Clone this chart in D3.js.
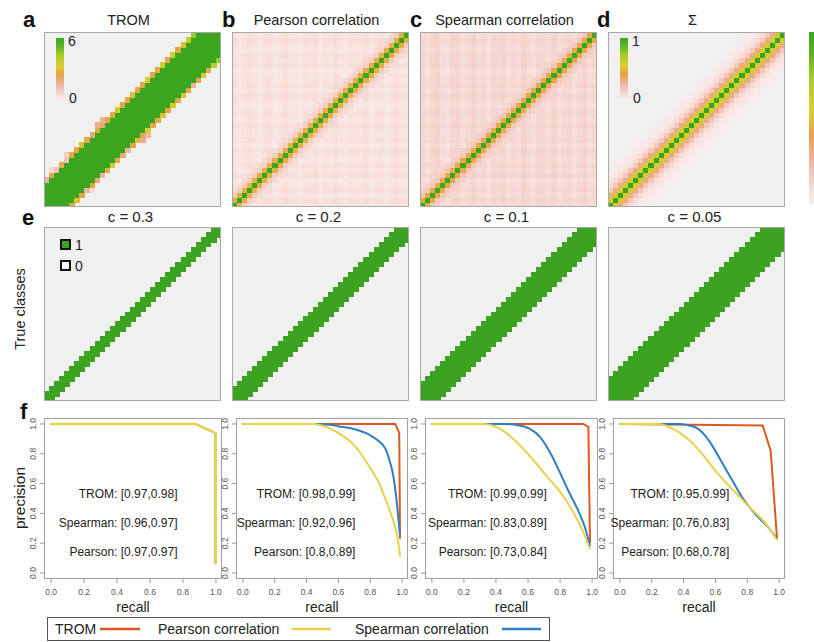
<!DOCTYPE html>
<html><head><meta charset="utf-8">
<script src="https://cdn.jsdelivr.net/npm/d3@7"></script>
<style>body{margin:0;background:#fff}text{font-family:"Liberation Sans",Arial,sans-serif}</style>
</head><body><svg id="c" width="814" height="642"></svg>
<script>
// ---------------- DATA ----------------
const N = 35;
const panelLetters = ["a", "b", "c", "d"];
const panelTitles = ["TROM", "Pearson correlation", "Spearman correlation", "Σ"];
const cTitles = ["c = 0.3", "c = 0.2", "c = 0.1", "c = 0.05"];
const trueBandHalfWidth = [1, 2, 3, 4];

// TROM scores (0..6): band core, edge cells just outside the band, outer cells
const tromMax = 6;
const tromBandHalfWidth = 4;
const tromUpperEdge = [1.5,2.5,1.2,2.5,1.2,2.5,2.5,3,2.5,2,2.5,2,2.5,2.5,3.5,2.5,2.5,3,2.5,2.5,3.5,2.5,2.5,3.5,2.5,3.5,2.5,3,4,4.5];
const tromLowerEdge = [2.5,3,2.5,1.5,2.5,2,1.5,2.5,3.5,2.5,2,1.5,2.5,3,2.5,3.5,2.5,2.5,3,2.5,3.5,2.5,3,2.5,1.5,2.5,3.5,2.5,4,4.5];
const tromUpperOuter = [0,0.6,0,0,0.8,0,0,0,0,0,1.8,1.5,0,0,0,0,0,0,0,0,0,0,0,0,0,0,0,0,0];
const tromLowerOuter = [0,0,0,0.6,0,0,0,0,0,0,0,0,0,1.8,1.5,0,0,0,0,0,0,0,0,0,0,0,0,0,0];

// correlation matrices: background shading by column / row, near-diagonal values by |offset|
const pearsonColShade = [0.055,0.03,0.05,0.065,0.04,0.025,0.05,0.06,0.03,0.045,0.065,0.04,0.05,0.025,0.055,0.045,0.06,0.03,0.05,0.04,0.065,0.045,0.025,0.055,0.05,0.04,0.06,0.03,0.045,0.055,0.025,0.05,0.065,0.04,0.045];
const pearsonRowShade = [0.015,0.035,0.01,0.03,0.02,0.0,0.035,0.015,0.03,0.01,0.02,0.035,0.0,0.03,0.015,0.02,0.035,0.01,0.03,0.015,0.0,0.02,0.035,0.01,0.03,0.015,0.02,0.0,0.035,0.015,0.03,0.01,0.02,0.035,0.015];
const pearsonNearDiag = [1, 0.45, 0.15, 0.1];
const spearmanColShade = [0.09,0.07,0.095,0.11,0.075,0.06,0.095,0.105,0.07,0.085,0.11,0.075,0.09,0.06,0.095,0.085,0.105,0.07,0.09,0.075,0.11,0.085,0.06,0.095,0.09,0.075,0.105,0.07,0.085,0.095,0.06,0.09,0.11,0.075,0.085];
const spearmanRowShade = [0.015,0.03,0.01,0.025,0.015,0.0,0.03,0.01,0.025,0.01,0.015,0.03,0.0,0.025,0.015,0.015,0.03,0.01,0.025,0.015,0.0,0.015,0.03,0.01,0.025,0.015,0.015,0.0,0.03,0.015,0.025,0.01,0.015,0.03,0.015];
const spearmanNearDiag = [1, 0.43, 0.17, 0.13];

// Sigma (0..1) by |offset| from the diagonal
const sigmaByOffset = [1, 0.57, 0.31, 0.17, 0.09, 0.05, 0.03, 0.015];

// precision-recall curves [recall, precision]
const recallTicks = [0, 0.2, 0.4, 0.6, 0.8, 1.0];
const precisionTicks = [0, 0.2, 0.4, 0.6, 0.8, 1.0];
const prTrom = [
  [[0,1],[0.88,1],[1,0.94],[1,0.06]],
  [[0,1],[0.96,1],[0.985,0.94],[0.99,0.23]],
  [[0,1],[0.95,1],[0.98,0.98],[0.99,0.2]],
  [[0,1],[0.9,0.99],[0.95,0.82],[0.99,0.23]]
];
const prSpearman = [
  [[0,1],[0.88,1],[1,0.94],[1,0.06]],
  [[0,1],[0.45,1],[0.55,0.995],[0.6,0.985],[0.7,0.966],[0.8,0.926],[0.85,0.89],[0.9,0.83],[0.923,0.76],[0.948,0.65],[0.965,0.52],[0.98,0.36],[0.99,0.25]],
  [[0,1],[0.45,1],[0.55,0.99],[0.61,0.97],[0.68,0.91],[0.74,0.81],[0.8,0.68],[0.86,0.54],[0.92,0.41],[0.96,0.3],[0.99,0.18]],
  [[0,1],[0.38,1],[0.44,0.99],[0.49,0.97],[0.54,0.92],[0.58,0.86],[0.64,0.75],[0.71,0.62],[0.77,0.51],[0.85,0.4],[0.94,0.3],[0.99,0.23]]
];
const prPearson = [
  [[0,1],[0.88,1],[1,0.94],[1,0.06]],
  [[0,1],[0.45,1],[0.5,0.99],[0.55,0.97],[0.6,0.94],[0.7,0.86],[0.8,0.71],[0.86,0.6],[0.9,0.49],[0.95,0.34],[0.98,0.2],[0.99,0.11]],
  [[0,1],[0.33,1],[0.38,0.99],[0.44,0.96],[0.51,0.9],[0.61,0.79],[0.72,0.65],[0.82,0.52],[0.9,0.38],[0.95,0.27],[0.99,0.16]],
  [[0,1],[0.25,1],[0.3,0.985],[0.35,0.96],[0.4,0.925],[0.46,0.87],[0.52,0.8],[0.6,0.69],[0.71,0.56],[0.81,0.45],[0.92,0.33],[0.99,0.22]]
];
const labelTrom = ["TROM: [0.97,0.98]", "TROM: [0.98,0.99]", "TROM: [0.99,0.99]", "TROM: [0.95,0.99]"];
const labelSpearman = ["Spearman: [0.96,0.97]", "Spearman: [0.92,0.96]", "Spearman: [0.83,0.89]", "Spearman: [0.76,0.83]"];
const labelPearson = ["Pearson: [0.97,0.97]", "Pearson: [0.8,0.89]", "Pearson: [0.73,0.84]", "Pearson: [0.68,0.78]"];
const labelRecallPos = [0.77, 0.71, 0.72, 0.69];
const labelPrecisionPos = [0.53, 0.34, 0.14];
const legendNames = ["TROM", "Pearson correlation", "Spearman correlation"];

// ---------------- STYLE ----------------
const cmapStops = [0, 0.06, 0.15, 0.27, 0.40, 0.55, 0.72, 0.86, 1];
const cmapColors = ["#f5efef","#f8e4e1","#f4cdc3","#eeb09a","#e6a34c","#dccd2c","#a8cd2a","#62b523","#3aa51f"];
const color = d3.scaleLinear().domain(cmapStops).range(cmapColors).clamp(true);
const GREEN = "#3ba320", BG = "#f0f0f0";
const C_TROM = "#dd5a1e", C_PEAR = "#e8d24a", C_SPEAR = "#2f7fc0";
const FONT = '"Liberation Sans",Arial,sans-serif';

const svg = d3.select("#c");
const defs = svg.append("defs");
const grad = defs.append("linearGradient").attr("id","cbar").attr("x1",0).attr("y1",1).attr("x2",0).attr("y2",0);
cmapStops.forEach((s,k)=>grad.append("stop").attr("offset",s).attr("stop-color",cmapColors[k]));

const colX = [44, 232, 420, 608];
const colW = 177;

// ---------------- matrices ----------------
function tromVal(i,j){
  const d=j-i, a=Math.abs(d);
  if(a<=tromBandHalfWidth) return tromMax;
  if(d===5) return tromUpperEdge[i];
  if(d===-5) return tromLowerEdge[j];
  if(d===6) return tromUpperOuter[i];
  if(d===-6) return tromLowerOuter[j];
  return 0;
}
function corrVal(colShade,rowShade,near){
  return (i,j)=>{
    const a=Math.abs(i-j), bg=colShade[i]+rowShade[j];
    if(a<near.length) return Math.max(bg, near[a]);
    return bg;
  };
}
function sigmaVal(i,j){const a=Math.abs(i-j);return a<sigmaByOffset.length?sigmaByOffset[a]:0;}
const topFns = [
  (i,j)=>tromVal(i,j)/tromMax,
  corrVal(pearsonColShade,pearsonRowShade,pearsonNearDiag),
  corrVal(spearmanColShade,spearmanRowShade,spearmanNearDiag),
  sigmaVal
];
const cells = [];
for(let i=0;i<N;i++) for(let j=0;j<N;j++) cells.push({i,j});

let clipId = 0;
function heat(x0,y0,w,h,fn,fillFn){
  const id = "clip" + (clipId++);
  defs.append("clipPath").attr("id",id).append("rect").attr("x",x0).attr("y",y0).attr("width",w).attr("height",h);
  const g = svg.append("g");
  const inner = g.append("g").attr("clip-path",`url(#${id})`);
  const xb = d3.scaleBand().domain(d3.range(N)).range([x0,x0+w]);
  const yb = d3.scaleBand().domain(d3.range(N)).range([y0+h,y0]);
  inner.append("rect").attr("x",x0).attr("y",y0).attr("width",w).attr("height",h).attr("fill",BG);
  inner.selectAll("rect.c").data(cells.filter(c=>fn(c.i,c.j)>0)).join("rect").attr("class","c")
    .attr("shape-rendering","crispEdges")
    .attr("x",c=>xb(c.i)).attr("y",c=>yb(c.j))
    .attr("width",xb.bandwidth()+0.6).attr("height",yb.bandwidth()+0.6)
    .attr("fill",c=>fillFn(fn(c.i,c.j)));
  g.append("rect").attr("x",x0+0.5).attr("y",y0+0.5).attr("width",w-1).attr("height",h-1)
    .attr("fill","none").attr("stroke","#a8a8a8").attr("stroke-width",1);
  return g;
}

// ---------------- row a-d ----------------
for(let p=0;p<4;p++){
  heat(colX[p],32,colW,175,topFns[p],v=>color(v));
  svg.append("text").attr("x",colX[p]+colW/2-4).attr("y",25).attr("text-anchor","middle")
    .attr("font-size",14.5).attr("fill","#222").text(panelTitles[p]);
}
const letterX=[23,222,410,597];
panelLetters.forEach((l,k)=>svg.append("text").attr("x",letterX[k]).attr("y",27).attr("font-size",22).attr("font-weight","bold").attr("fill","#111").text(l));

// inner colour keys
[[56,"6","0"],[620,"1","0"]].forEach(([x,hi,lo])=>{
  svg.append("rect").attr("x",x).attr("y",38).attr("width",8).attr("height",62).attr("fill","url(#cbar)");
  svg.append("text").attr("x",x+12).attr("y",46).attr("font-size",14).attr("fill","#222").text(hi);
  svg.append("text").attr("x",x+13).attr("y",103).attr("font-size",14).attr("fill","#222").text(lo);
});
// right-edge colour bar (cropped)
svg.append("rect").attr("x",809).attr("y",32).attr("width",10).attr("height",172).attr("fill","url(#cbar)");

// ---------------- row e ----------------
for(let p=0;p<4;p++){
  const k=trueBandHalfWidth[p];
  heat(colX[p],227,colW,174,(i,j)=>Math.abs(i-j)<=k?1:0,()=>GREEN);
  svg.append("text").attr("x",colX[p]+colW/2-2).attr("y",222).attr("text-anchor","middle")
    .attr("font-size",15).attr("fill","#222").text(cTitles[p]);
}
svg.append("text").attr("x",22).attr("y",225).attr("font-size",22).attr("font-weight","bold").attr("fill","#111").text("e");
svg.append("text").attr("transform","translate(25,309) rotate(-90)").attr("text-anchor","middle")
  .attr("font-size",14.5).attr("fill","#222").text("True classes");
[["1",GREEN,240],["0","#fff",261]].forEach(([t,f,y])=>{
  svg.append("rect").attr("x",61).attr("y",y).attr("width",9).attr("height",9).attr("fill",f).attr("stroke","#111").attr("stroke-width",2);
  svg.append("text").attr("x",75).attr("y",y+10).attr("font-size",14).attr("fill","#222").text(t);
});

// ---------------- row f ----------------
const boxL=[44,236,425,613], boxR=[222,408,598,785], boxT=418, boxB=579;
const lineGen=(x,y,curve)=>d3.line().x(d=>x(d[0])).y(d=>y(d[1])).curve(curve);
for(let p=0;p<4;p++){
  const x=d3.scaleLinear().domain([-0.04,1.04]).range([boxL[p],boxR[p]]);
  const y=d3.scaleLinear().domain([-0.04,1.04]).range([boxB,boxT]);
  const g=svg.append("g");
  g.append("rect").attr("x",boxL[p]+0.5).attr("y",boxT+0.5).attr("width",boxR[p]-boxL[p]-1).attr("height",boxB-boxT-1)
    .attr("fill","#fff").attr("stroke","#a0a0a0");
  const xa=g.append("g").attr("transform",`translate(0,${boxB})`).call(d3.axisBottom(x).tickValues(recallTicks).tickFormat(d3.format(".1f")).tickSize(4).tickSizeOuter(0));
  const ya=g.append("g").attr("transform",`translate(${boxL[p]},0)`).call(d3.axisLeft(y).tickValues(precisionTicks).tickFormat(d3.format(".1f")).tickSize(4).tickSizeOuter(0));
  [xa,ya].forEach(a=>{a.select(".domain").remove();a.selectAll("line").attr("stroke","#999");
    a.selectAll("text").attr("font-size",8.5).attr("fill","#555").attr("font-family",FONT);});
  xa.selectAll("text").attr("dy","1.0em");
  ya.selectAll(".tick").attr("transform",null);
  ya.selectAll(".tick line").attr("y1",d=>y(d)).attr("y2",d=>y(d)).attr("x2",-4);
  ya.selectAll(".tick text").attr("x",-8).attr("y",d=>y(d)).attr("dy","0").attr("text-anchor","middle")
    .attr("transform",d=>`rotate(-90,-8,${y(d)})`);
  const lin=d3.curveLinear, smooth=p===0?d3.curveLinear:d3.curveMonotoneX;
  g.append("path").attr("d",lineGen(x,y,lin)(prTrom[p])).attr("fill","none").attr("stroke",C_TROM).attr("stroke-width",p===0?1.6:2);
  g.append("path").attr("d",lineGen(x,y,smooth)(prSpearman[p])).attr("fill","none").attr("stroke",C_SPEAR).attr("stroke-width",p===0?1.6:2);
  g.append("path").attr("d",lineGen(x,y,smooth)(prPearson[p])).attr("fill","none").attr("stroke",C_PEAR).attr("stroke-width",p===0?2.4:2);
  [labelTrom[p],labelSpearman[p],labelPearson[p]].forEach((t,k)=>{
    g.append("text").attr("x",x(labelRecallPos[p])).attr("y",y(labelPrecisionPos[k])).attr("dy","0.35em")
      .attr("text-anchor","end").attr("font-size",12).attr("fill","#222").text(t);
  });
  svg.append("text").attr("x",(boxL[p]+boxR[p])/2).attr("y",612).attr("text-anchor","middle")
    .attr("font-size",14).attr("fill","#222").text("recall");
}
svg.append("text").attr("x",20).attr("y",419).attr("font-size",22).attr("font-weight","bold").attr("fill","#111").text("f");
svg.append("text").attr("transform","translate(25,498) rotate(-90)").attr("text-anchor","middle")
  .attr("font-size",15.5).attr("fill","#222").text("precision");

// ---------------- legend ----------------
const lg=svg.append("g");
lg.append("rect").attr("x",47.5).attr("y",617.5).attr("width",502).attr("height",23).attr("fill","#fff").attr("stroke","#555");
const legText=[55,158,355], legLine=[[100,140],[292,331],[502,541]], legCol=[C_TROM,C_PEAR,C_SPEAR];
legendNames.forEach((n,k)=>{
  lg.append("text").attr("x",legText[k]).attr("y",634).attr("font-size",14).attr("fill","#222").text(n);
  lg.append("line").attr("x1",legLine[k][0]).attr("x2",legLine[k][1]).attr("y1",629).attr("y2",629)
    .attr("stroke",legCol[k]).attr("stroke-width",2.5);
});
</script></body></html>
